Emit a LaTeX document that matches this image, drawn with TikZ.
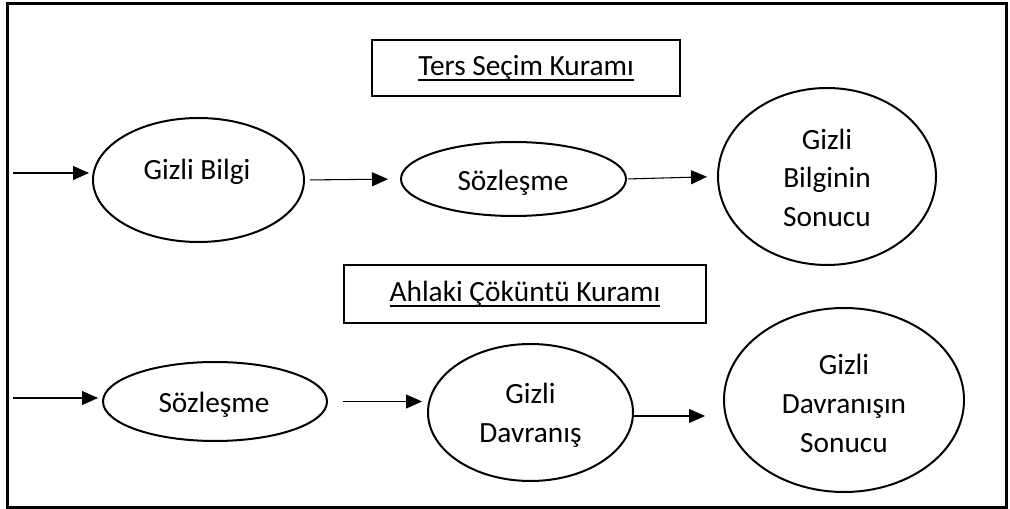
\documentclass[tikz,border=0pt]{standalone}
\usepackage{fontspec}
\setmainfont{Carlito}
\usetikzlibrary{arrows.meta,shapes.geometric}
% one picture unit = 0.75pt
\newcommand{\pxu}{0.75pt}
% underlined heading text
\newcommand{\titleline}[1]{\setbox0\hbox{#1}\rlap{\rule[-3.6pt]{\wd0}{1.4pt}}\box0}

\begin{document}
\begin{tikzpicture}[x=0.75pt,y=-0.75pt,
  font=\fontsize{22}{29}\selectfont,
  oval/.style={ellipse, draw, line width=1.5pt, inner sep=0pt, outer sep=0pt},
  lbl/.style={align=center, inner sep=0pt},
  titlebox/.style={draw, line width=1.5pt, inner sep=0pt, outer sep=0pt},
  arr/.style={line width=0.8pt, -{Triangle[length=12pt,width=10.5pt]}}]
\useasboundingbox (0,0) rectangle (1010,509);

% outer frame
\draw[line width=2.25pt] (7.5,4) rectangle (1006,507.5);

% headings
\node[titlebox, minimum width=308*\pxu, minimum height=56*\pxu] (ters) at (526,68)
  {\strut\titleline{Ters Seçim Kuramı}};
\node[titlebox, minimum width=362*\pxu, minimum height=58*\pxu] (ahlak) at (525,294)
  {\strut\titleline{Ahlaki Çöküntü Kuramı}};

% upper chain
\node[oval, minimum width=211*\pxu, minimum height=124*\pxu] (gb) at (198.5,180) {};
\node[oval, minimum width=225*\pxu, minimum height=74*\pxu] (s1) at (513.5,179) {};
\node[oval, minimum width=218*\pxu, minimum height=177*\pxu] (gbs) at (827,176.5) {};
\node[lbl] (gb-t) at (197,171.3) {\strut Gizli Bilgi};
\node[lbl] (s1-t) at (513,183) {\strut Sözleşme};
\node[lbl] (gbs-t) at (827,180) {\strut Gizli\\\strut Bilginin\\\strut Sonucu};

% lower chain
\node[oval, minimum width=224*\pxu, minimum height=79*\pxu] (s2) at (215,401.5) {};
\node[oval, minimum width=205*\pxu, minimum height=137*\pxu] (gd) at (530.5,412.5) {};
\node[oval, minimum width=240*\pxu, minimum height=184*\pxu] (gds) at (844,400) {};
\node[lbl] (s2-t) at (214,404.3) {\strut Sözleşme};
\node[lbl] (gd-t) at (530.5,415) {\strut Gizli\\\strut Davranış};
\node[lbl] (gds-t) at (844,405.6) {\strut Gizli\\\strut Davranışın\\\strut Sonucu};

% connectors
\coordinate (in1) at (13,173);
\coordinate (in2) at (13,398);
\coordinate (gdo) at ([yshift=-2.6pt]gd.east);
\draw[arr, shorten >=3pt] (in1) -- (in1 -| gb.west);
\draw[arr, shorten <=4.5pt, shorten >=9.75pt] (gb.east) -- (s1.west);
\draw[arr, shorten <=1.5pt, shorten >=8.25pt] (s1.east) -- (gbs.west);
\draw[arr, shorten >=3.75pt] (in2) -- (in2 -| s2.west);
\draw[arr, shorten <=12pt, shorten >=4.5pt] (s2.east) -- (s2.east -| gd.west);
\draw[arr, shorten <=0.75pt, shorten >=14.25pt] (gdo) -- (gdo -| gds.west);
\end{tikzpicture}
\end{document}
